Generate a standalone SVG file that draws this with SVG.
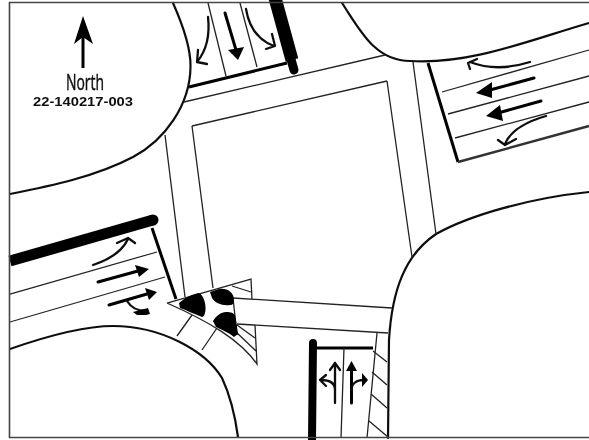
<svg xmlns="http://www.w3.org/2000/svg" width="589" height="440" viewBox="0 0 589 440">
<style>
.curb{fill:none;stroke:#111;stroke-width:2.200;stroke-linecap:round}
.thin{fill:none;stroke:#222;stroke-width:1.300}
.stop{fill:none;stroke:#000;stroke-width:3}
.bar{fill:none;stroke:#000;stroke-width:12;stroke-linecap:round}
.arr{fill:none;stroke:#111;stroke-width:2.300;stroke-linecap:round;stroke-linejoin:round}
.sarr{fill:none;stroke:#000;stroke-width:3;stroke-linecap:round}
.fill{fill:#000;stroke:none}
</style>
<defs><filter id="soft" x="-2%" y="-2%" width="104%" height="104%"><feGaussianBlur stdDeviation="0.35"/></filter></defs>
<rect width="589" height="440" fill="#fff"/>
<g filter="url(#soft)">
<g id="curbs">
<path class="curb" d="M173 3C185 30 191 50 190.500 67C190 105 165 140 133 157C95 177 50 186 10 194"/>
<path class="curb" d="M342 3C360 30 375 61 410 61C470 65 530 40 589 23"/>
<path class="curb" d="M589 192C530 198 470 215 436 234C405 255 392 290 389 340L388 438"/>
<path class="curb" d="M10 349C50 335 85 326 113 326C160 326 205 350 222 378C230 395 235 415 238 437"/>
</g>
<g id="crosswalks">
<path class="thin" d="M184 102L385 55M192 126L387 81M192 126L213 288M165 135L185 297M387 81L412 257M413 62L436 234M233 298L392 308M237 324L388 333"/>
</g>
<g id="approach-north">
<path class="stop" d="M189 87L287 63"/>
<path d="M275 -2L292 60" fill="none" stroke="#000" stroke-width="13"/>
<path d="M285 38L294 70" fill="none" stroke="#000" stroke-width="9" stroke-linecap="round"/>
<path class="thin" d="M208 3L226 76M240 3L257 67"/>
<path class="arr" d="M208 17C210 35 207 50 197 62M198 50L197 62L207 64"/>
<path class="sarr" d="M225 13L236 50"/>
<path class="fill" d="M228 50L244 47L238 60Z"/>
<path class="arr" d="M246 9C249 27 258 40 274 46M272 34L275 46L266 49"/>
</g>
<g id="approach-east">
<path class="stop" d="M428 63L458 162"/>
<path fill="none" stroke="#333" stroke-width="2.400" d="M458 162L589 126"/>
<path class="thin" d="M442 92L589 50M448 114L589 76M455 138L589 102"/>
<path class="arr" d="M530 62C508 69 488 69 470 62M477 59L468 63L470 69"/>
<path class="sarr" d="M534 78L490 90"/>
<path class="fill" d="M492 82L476 93L492 98Z"/>
<path class="sarr" d="M541 101L498 113"/>
<path class="fill" d="M500 105L486 116L503 121Z"/>
<path class="arr" d="M546 116C525 122 510 132 505 144M498 140L505 145L516 139"/>
</g>
<g id="approach-west">
<path d="M10 261L153 220" fill="none" stroke="#000" stroke-width="11" stroke-linecap="butt"/>
<circle cx="153" cy="220" r="5.500" class="fill"/>
<path class="stop" d="M152 228L176 299"/>
<path class="thin" d="M10 294L157 252M10 322L165 277"/>
<path class="arr" d="M93 265C108 260 122 252 128 239M117 243L128 238L135 243"/>
<path class="sarr" d="M98 282L138 271"/>
<path class="fill" d="M135 265L149 269L139 277Z"/>
<path class="sarr" d="M109 305L147 294"/>
<path class="fill" d="M145 288L157 292L149 300Z"/>
<path class="arr" d="M127 301C132 309 138 311 146 311"/>
<path class="fill" d="M133 312L148 308L150 314L146 315L137 315Z"/>
</g>
<g id="approach-south">
<path d="M313 343L312 440" fill="none" stroke="#000" stroke-width="8" stroke-linecap="round"/>
<path class="stop" d="M317 348L373 348"/>
<path class="thin" d="M344 348L341 438M377 333L367 438"/>
<path class="thin" d="M373 351L387 362M372 372L387 385M371 394L387 408M369 421L388 437"/>
<path class="arr" d="M335 403V363M330 370L335 363L340 370M335 390C335 383 330 380 321 380M326 375L320 380L326 386"/>
<path class="sarr" d="M351.500 403V368"/>
<path class="fill" d="M346 371L351.500 361L357 371Z"/>
<path class="arr" d="M351.500 390C351.500 383 357 380 364 380"/>
<path class="fill" d="M362 373L368 380L362 387Z"/>
</g>
<g id="island">
<path class="thin" d="M167 303L251 279L252 299M255 325L257 364C240 340 210 322 167 303M233 298L237 335M192 315L177 336M217 328L202 350M232 286L251 292M237 325L255 338M235 331L256 351"/>
<path class="fill" d="M179 303C186 297 193 294 199 293C204 296 206 304 205.500 310C205 314 204 317 202 317C194 314 186 310 180 308Z"/>
<path class="fill" d="M210 292L219 289C228 288 234 293 234 300C234 303 233 305 230 305C222 306 215 303 212 298Z"/>
<path class="fill" d="M213 321C216 316 221 312 226 312C231 312 235 313 235.500 317L238 334L234 337C228 332 220 329 216 327Z"/>
</g>
<g id="north-label">
<path fill="none" stroke="#000" stroke-width="3" d="M83 68V25"/>
<path class="fill" d="M83 16L93 44L83 37L74 44Z"/>
<text x="85" y="90" font-family="'Open Sans','Liberation Sans',sans-serif" font-size="22" text-anchor="middle" textLength="38" lengthAdjust="spacingAndGlyphs" fill="#111" stroke="#111" stroke-width="0.500">North</text>
<text x="83" y="106" font-family="'Liberation Sans',Arial,sans-serif" font-size="13.500" font-weight="700" text-anchor="middle" textLength="100" lengthAdjust="spacingAndGlyphs" fill="#111">22-140217-003</text>
</g>
<g id="frame">
<path fill="none" stroke="#444" stroke-width="1.600" d="M589 2.500H9.500V437.500H589"/>
</g>
</g>
</svg>
